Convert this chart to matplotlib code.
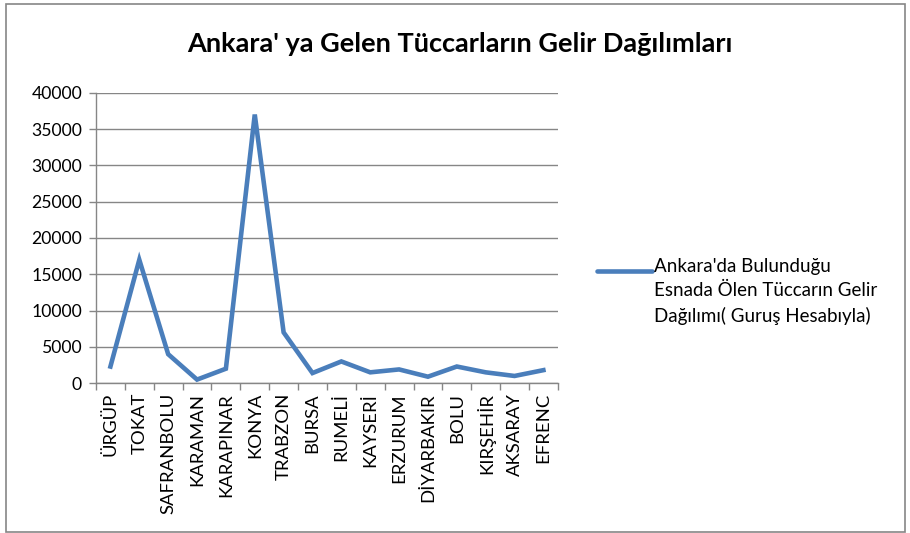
import matplotlib.pyplot as plt
from matplotlib.patches import Rectangle
from matplotlib.lines import Line2D
import numpy as np

plt.rcParams['font.family'] = ['Lato', 'DejaVu Sans']

cities = ["ÜRGÜP", "TOKAT", "SAFRANBOLU", "KARAMAN", "KARAPINAR", "KONYA",
          "TRABZON", "BURSA", "RUMELİ", "KAYSERİ", "ERZURUM", "DİYARBAKIR",
          "BOLU", "KIRŞEHİR", "AKSARAY", "EFRENC"]
gelir = [2300, 17000, 4000, 500, 2000, 37000, 7000, 1400, 3000, 1500,
         1900, 900, 2300, 1500, 1000, 1800]
series_name = "Ankara'da Bulunduğu\nEsnada Ölen Tüccarın Gelir\nDağılımı( Guruş Hesabıyla)"
title = "Ankara' ya Gelen Tüccarların Gelir Dağılımları"

grey = "#868686"
blue = "#4A7EBB"

fig = plt.figure(figsize=(9.1, 5.33), dpi=100)
ax = fig.add_axes([0.1055, 0.281, 0.5075, 0.545])

x = np.arange(len(cities))
ax.plot(x, gelir, color=blue, linewidth=3.3, solid_joinstyle="miter")

ax.set_xlim(-0.5, len(cities) - 0.5)
ax.set_ylim(0, 40000)
ax.set_yticks(np.arange(0, 40001, 5000))
ax.yaxis.grid(True, color=grey, linewidth=1)
ax.set_axisbelow(True)

# category ticks sit between the labels, as in the original
ax.set_xticks(np.arange(-0.5, len(cities), 1))
ax.set_xticklabels([])
ax.set_xticks(x, minor=True)
ax.set_xticklabels(cities, minor=True, rotation=90, fontsize=13.3)
ax.tick_params(axis="x", which="minor", length=0, pad=7)
ax.tick_params(axis="x", which="major", length=5, color=grey, width=1)
ax.tick_params(axis="y", length=5, color=grey, width=1, labelsize=12.7, pad=5)

for s in ["top", "right"]:
    ax.spines[s].set_visible(False)
for s in ["left", "bottom"]:
    ax.spines[s].set_color(grey)
    ax.spines[s].set_linewidth(1)

fig.text(0.505, 0.918, title, ha="center", va="center", fontsize=19.5,
         fontweight="bold")

# legend drawn by hand so the key sits on the first text line
fig.add_artist(Line2D([0.656, 0.716], [0.4916, 0.4916], transform=fig.transFigure,
                      color=blue, linewidth=3.3, solid_capstyle="round"))
fig.text(0.719, 0.516, series_name, ha="left", va="top", fontsize=13.5,
         linespacing=1.5, transform=fig.transFigure)

fig.patches.append(Rectangle((0.0066, 0.0025), 0.9884, 0.99, transform=fig.transFigure,
                             fill=False, edgecolor=grey, linewidth=1.2))

fig.savefig("out.png", dpi=100)
